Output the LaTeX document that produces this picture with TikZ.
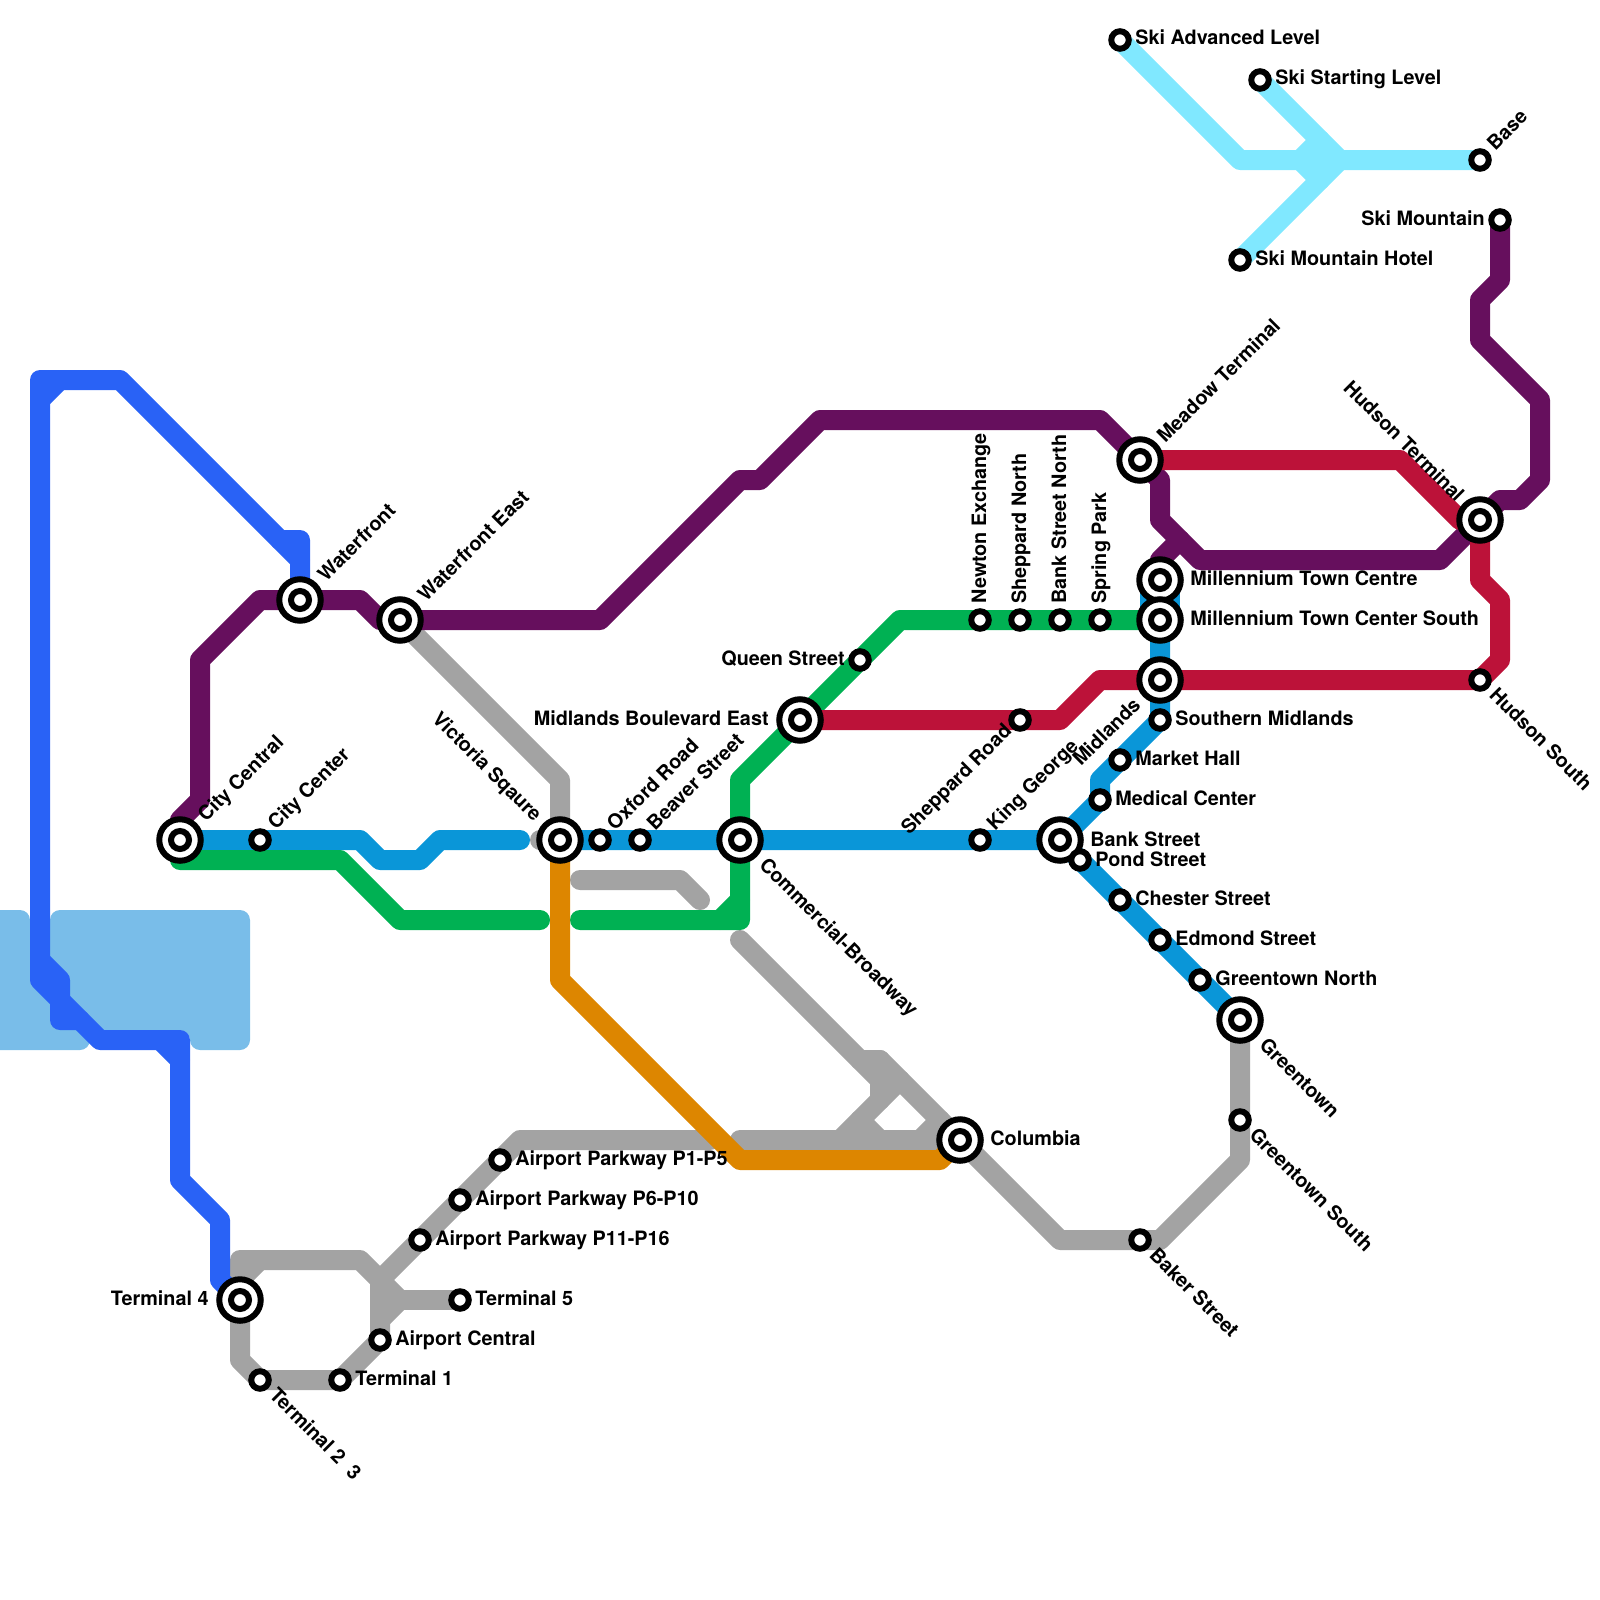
\documentclass[tikz,border=0pt]{standalone}
\usepackage{fontspec}
\setmainfont{TeX Gyre Heros}
\pgfdeclarelayer{bg}
\pgfsetlayers{bg,main}
\definecolor{cwater}{HTML}{79BDE9}
\definecolor{cpurple}{HTML}{660F5D}
\definecolor{cred}{HTML}{BC1239}
\definecolor{ccyan}{HTML}{80E8FF}
\definecolor{cblue}{HTML}{0A96D8}
\definecolor{cdark}{HTML}{2962F6}
\definecolor{cgreen}{HTML}{00B153}
\definecolor{cgray}{HTML}{A3A3A3}
\definecolor{corange}{HTML}{DD8600}
\tikzset{
 x=0.5pt,y=-0.5pt,
 tube/.style={draw=#1,line width=10pt,line cap=round,line join=round},
 stop/.style={circle,draw=black,fill=white,line width=3pt,minimum size=8.75pt,inner sep=0pt},
 hub/.style={circle,draw=black,fill=white,line width=3pt,minimum size=20.75pt,inner sep=0pt,
   path picture={\draw[black,line width=3pt] (path picture bounding box.center) circle (4.5pt);}},
 lbl/.style={font=\bfseries\fontsize{9.9pt}{11pt}\selectfont,text=black,inner sep=0pt,anchor=west,text height=7pt,text depth=0pt},
 lbr/.style={lbl,anchor=east},
}
\begin{document}
\begin{tikzpicture}
\useasboundingbox (0,0) rectangle (1600,1600);
% stations
\node[hub] (CC) at (180,840) {};
\node[stop] (CCe) at (260,840) {};
\node[hub] (WF) at (300,600) {};
\node[hub] (WE) at (400,620) {};
\node[hub] (VS) at (560,840) {};
\node[stop] (OX) at (600,840) {};
\node[stop] (BV) at (640,840) {};
\node[hub] (CB) at (740,840) {};
\node[hub] (MB) at (800,720) {};
\node[stop] (QS) at (860,660) {};
\node[stop] (NE) at (980,620) {};
\node[stop] (SN) at (1020,620) {};
\node[stop] (BN) at (1060,620) {};
\node[stop] (SP) at (1100,620) {};
\node[hub] (MT) at (1160,580) {};
\node[hub] (MS) at (1160,620) {};
\node[hub] (ML) at (1160,680) {};
\node[stop] (SM) at (1160,720) {};
\node[stop] (MH) at (1120,760) {};
\node[stop] (MC) at (1100,800) {};
\node[hub] (BS) at (1060,840) {};
\node[stop] (PS) at (1080,860) {};
\node[stop] (CS) at (1120,900) {};
\node[stop] (ES) at (1160,940) {};
\node[stop] (GN) at (1200,980) {};
\node[hub] (GT) at (1240,1020) {};
\node[stop] (GS) at (1240,1120) {};
\node[stop] (BK) at (1140,1240) {};
\node[hub] (CO) at (960,1140) {};
\node[hub] (MD) at (1140,460) {};
\node[hub] (HT) at (1480,520) {};
\node[stop] (HS) at (1480,680) {};
\node[stop] (SK) at (1500,220) {};
\node[stop] (BA) at (1480,160) {};
\node[stop] (SH) at (1240,260) {};
\node[stop] (SS) at (1260,80) {};
\node[stop] (SA) at (1120,40) {};
\node[stop] (SR) at (1020,720) {};
\node[stop] (KG) at (980,840) {};
\node[hub] (T4) at (240,1300) {};
\node[stop] (T2) at (260,1380) {};
\node[stop] (T1) at (340,1380) {};
\node[stop] (AC) at (380,1340) {};
\node[stop] (T5) at (460,1300) {};
\node[stop] (P11) at (420,1240) {};
\node[stop] (P6) at (460,1200) {};
\node[stop] (P1) at (500,1160) {};
% free ends
\coordinate (wfTop) at (300,540);
\begin{pgfonlayer}{bg}
% water
\fill[cwater,rounded corners=5pt] (-30,910) -- (30,910) -- (30,970) -- (90,1030) -- (90,1050) -- (-30,1050) -- cycle;
\fill[cwater,rounded corners=5pt] (50,910) -- (250,910) -- (250,1050) -- (190,1050) -- (190,1030) -- (100,1035) -- (50,985) -- cycle;
% gray
\draw[tube=cgray] (WE.center) -- (560,780) -- (VS.center) -- (540,840);
\draw[tube=cgray] (580,880) -- (680,880) -- (700,900);
\draw[tube=cgray] (740,940) -- (880,1080);
\draw[tube=cgray] (860,1060) -- (880,1060) -- (CO.center) -- (1060,1240) -- (BK.center) -- (1160,1240) -- (1240,1160) -- (GS.center) -- (GT.center);
\draw[tube=cgray] (880,1060) -- (880,1100);
\draw[tube=cgray] (900,1080) -- (840,1140);
\draw[tube=cgray] (740,1140) -- (CO.center);
\draw[tube=cgray] (860,1120) -- (880,1140);
\draw[tube=cgray] (920,1140) -- (940,1120);
\draw[tube=cgray] (T4.center) -- (240,1260) -- (360,1260) -- (380,1280) -- (AC.center) -- (T1.center) -- (T2.center) -- (240,1360) -- (T4.center);
\draw[tube=cgray] (240,1280) -- (260,1260);
\draw[tube=cgray] (380,1280) -- (P11.center) -- (P6.center) -- (P1.center) -- (520,1140) -- (710,1140);
\draw[tube=cgray] (380,1300) -- (T5.center);
\draw[tube=cgray] (380,1280) -- (400,1300) -- (380,1320);
% cyan
\draw[tube=ccyan] (SA.center) -- (1240,160) -- (BA.center);
\draw[tube=ccyan] (SS.center) -- (1340,160) -- (SH.center);
\draw[tube=ccyan] (1320,140) -- (1300,160) -- (1320,180);
% dark blue
\draw[tube=cdark] (WF.center) -- (wfTop) -- (280,540) -- (120,380) -- (40,380) -- (40,980) -- (100,1040) -- (180,1040) -- (180,1180) -- (220,1220) -- (220,1280) -- (T4.center);
\draw[tube=cdark] (300,560) -- (280,540);
\draw[tube=cdark] (40,400) -- (60,380);
\draw[tube=cdark] (40,960) -- (60,980) -- (60,1020) -- (80,1020);
\draw[tube=cdark] (160,1040) -- (180,1060);
% medium blue
\draw[tube=cblue] (CC.center) -- (CCe.center) -- (360,840) -- (380,860) -- (420,860) -- (440,840) -- (520,840);
\draw[tube=cblue] (VS.center) -- (OX.center) -- (BV.center) -- (CB.center) -- (KG.center) -- (BS.center) -- (MC.center) -- (1100,780) -- (MH.center) -- (SM.center) -- (ML.center) -- (MS.center);
\draw[tube=cblue] (BS.center) -- (PS.center) -- (CS.center) -- (ES.center) -- (GN.center) -- (GT.center);
\draw[tube=cblue] (1150,580) -- (1150,620);
\draw[tube=cblue] (1170,580) -- (1170,620);
% green
\draw[tube=cgreen] (CC.center) -- (180,860) -- (340,860) -- (400,920) -- (540,920);
\draw[tube=cgreen] (580,920) -- (740,920) -- (CB.center) -- (740,780) -- (MB.center) -- (QS.center) -- (900,620) -- (NE.center) -- (SN.center) -- (BN.center) -- (SP.center) -- (MS.center);
\draw[tube=cgreen] (720,920) -- (740,900);
% purple
\draw[tube=cpurple] (CC.center) -- (180,820) -- (200,800) -- (200,660) -- (260,600) -- (WF.center) -- (360,600) -- (380,620) -- (WE.center) -- (600,620) -- (740,480) -- (760,480) -- (820,420) -- (1100,420) -- (MD.center) -- (1160,480) -- (1160,520) -- (1200,560) -- (1440,560) -- (HT.center) -- (1500,500) -- (1520,500) -- (1540,480) -- (1540,400) -- (1480,340) -- (1480,300) -- (1500,280) -- (SK.center);
\draw[tube=cpurple] (MT.center) -- (1160,560) -- (1180,540);
% red
\draw[tube=cred] (MB.center) -- (SR.center) -- (1060,720) -- (1100,680) -- (ML.center) -- (HS.center) -- (1500,660) -- (1500,600) -- (1480,580) -- (HT.center) -- (1460,520) -- (1400,460) -- (MD.center);
% orange
\draw[tube=corange] (VS.center) -- (560,980) -- (740,1160) -- (940,1160) -- (CO.center);
\end{pgfonlayer}
% labels
\node[lbl] (lSA) at (1135,38) {Ski Advanced Level};
\node[lbl] (lSS) at (1275,78) {Ski Starting Level};
\node[lbl] (lSH) at (1255,258) {Ski Mountain Hotel};
\node[lbl] (lSM) at (1175,718) {Southern Midlands};
\node[lbl] (lMH) at (1135,758) {Market Hall};
\node[lbl] (lMC) at (1115,798) {Medical Center};
\node[lbl] (lCS) at (1135,898) {Chester Street};
\node[lbl] (lES) at (1175,938) {Edmond Street};
\node[lbl] (lGN) at (1215,978) {Greentown North};
\node[lbl] (lP1) at (515,1158) {Airport Parkway P1-P5};
\node[lbl] (lP6) at (475,1198) {Airport Parkway P6-P10};
\node[lbl] (lP11) at (435,1238) {Airport Parkway P11-P16};
\node[lbl] (lT5) at (475,1298) {Terminal 5};
\node[lbl] (lAC) at (395,1338) {Airport Central};
\node[lbl] (lT1) at (355,1378) {Terminal 1};
\node[lbl] (lPS) at (1095,859) {Pond Street};
\node[lbl] (lBS) at (1090,839) {Bank Street};
\node[lbl] (lMT) at (1190,578) {Millennium Town Centre};
\node[lbl] (lMS) at (1190,618) {Millennium Town Center South};
\node[lbl] (lCO) at (990,1138) {Columbia};
\node[lbr] (lQS) at (845,658) {Queen Street};
\node[lbr] (lSK) at (1485,218) {Ski Mountain};
\node[lbr] (lMB) at (769,718) {Midlands Boulevard East};
\node[lbr] (lT4) at (209,1298) {Terminal 4};
\node[lbl,rotate=90] (lNE) at (979,604) {Newton Exchange};
\node[lbl,rotate=90] (lSN) at (1019,604) {Sheppard North};
\node[lbl,rotate=90] (lBN) at (1059,604) {Bank Street North};
\node[lbl,rotate=90] (lSP) at (1099,604) {Spring Park};
\node[lbl,rotate=45] (lCC) at (201,818) {City Central};
\node[lbl,rotate=45] (lCCe) at (271,826) {City Center};
\node[lbl,rotate=45] (lWF) at (321,578) {Waterfront};
\node[lbl,rotate=45] (lWE) at (421,598) {Waterfront East};
\node[lbl,rotate=45] (lOX) at (610,827) {Oxford Road};
\node[lbl,rotate=45] (lBV) at (650,827) {Beaver Street};
\node[lbl,rotate=45] (lKG) at (990,827) {King George};
\node[lbl,rotate=45] (lMD) at (1160,439) {Meadow Terminal};
\node[lbl,rotate=45] (lBA) at (1490,147) {Base};
\node[lbl,rotate=-45] (lCB) at (763,861) {Commercial-Broadway};
\node[lbl,rotate=-45] (lGT) at (1263,1041) {Greentown};
\node[lbl,rotate=-45] (lGS) at (1253,1131) {Greentown South};
\node[lbl,rotate=-45] (lBK) at (1153,1251) {Baker Street};
\node[lbl,rotate=-45] (lHS) at (1493,691) {Hudson South};
\node[lbl,rotate=-45] (lT2) at (273,1391) {Terminal 2\ \ 3};
\node[lbr,rotate=-45] (lVS) at (539,818) {Victoria Sqaure};
\node[lbr,rotate=-45] (lHT) at (1461,498) {Hudson Terminal};
\node[lbr,rotate=45] (lSR) at (1008,727) {Sheppard Road};
\node[lbr,rotate=45] (lML) at (1137,701) {Midlands};
\end{tikzpicture}
\end{document}
